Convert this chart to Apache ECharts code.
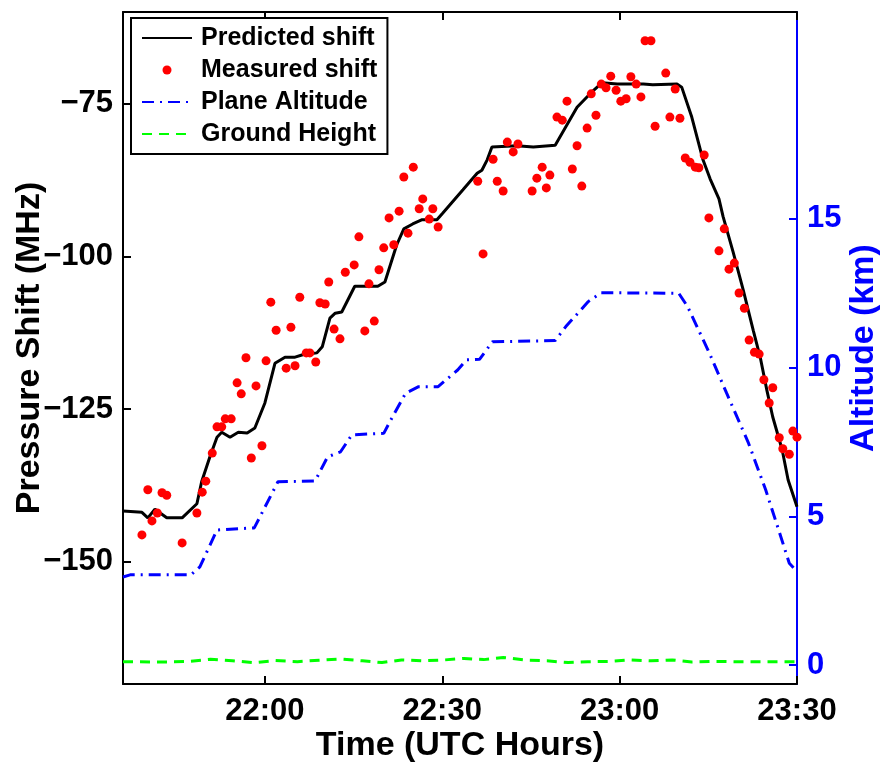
<!DOCTYPE html>
<html>
<head>
<meta charset="utf-8">
<script src="https://cdn.jsdelivr.net/npm/echarts@6/dist/echarts.min.js"></script>
<style>
  html, body { margin: 0; padding: 0; background: #fff; }
  #echart { width: 884px; height: 763px; }
</style>
</head>
<body>
<div id="echart"></div>
<script>
// time in minutes after 21:00
var xTicks = [60, 90, 120, 150];
var shiftTicks = [-150, -125, -100, -75];
var altTicks = [0, 5, 10, 15];

var predTime = [36, 39.2, 40.2, 41.4, 43.4, 46.0, 48.5, 49.3, 50.7, 51.9, 52.7, 54.1, 55.5, 57.0, 58.3, 60.0,
    61.7, 63.4, 65.1, 66.4, 68.8, 69.7, 71.0, 71.9, 73.0, 75.2, 79.1, 80.3, 82.3, 83.5, 85.0, 86.6, 89.1, 90.1,
    93.5, 95.9, 96.7, 97.6, 98.4, 102.6, 105.4, 109.1, 112.8, 115.5, 117.0, 119.6, 124.0, 125.6, 129.7, 130.5,
    132.2, 134.1, 135.3, 136.8, 137.5, 139.2, 140.9, 142.6, 143.8, 144.9, 145.9, 147.5, 148.5, 150.0];
var predShift = [-141.7, -141.9, -142.8, -141.4, -142.8, -142.8, -140.5, -136.9, -132.8, -129.6, -128.8, -129.6,
    -128.8, -128.9, -128.1, -124.0, -117.5, -116.5, -116.5, -116.1, -115.8, -114.8, -110.1, -109.3, -109.1, -104.9,
    -104.9, -104.2, -98.1, -95.5, -94.7, -94.0, -94.0, -92.9, -89.1, -86.4, -85.9, -84.2, -82.1, -81.9, -82.1,
    -81.8, -75.6, -72.9, -71.6, -71.8, -71.8, -71.9, -71.8, -72.3, -77.2, -84.2, -87.3, -90.6, -93.5, -99.3,
    -105.5, -112.1, -116.6, -121.9, -126.3, -131.7, -136.6, -141.0];

var measTime = [39.2, 40.2, 40.9, 41.8, 42.6, 43.4, 46.0, 48.5, 49.4, 50.0, 51.1, 51.9, 52.7, 53.3, 54.3, 55.3,
    56.0, 56.8, 57.7, 58.5, 59.5, 60.2, 61.0, 61.9, 63.6, 64.4, 65.1, 67.0, 67.6, 68.6, 69.3, 70.2, 71.7, 72.7,
    76.9, 78.5, 65.9, 70.8, 73.6, 75.1, 75.9, 77.6, 79.3, 80.1, 81.0, 81.8, 82.7, 83.5, 84.2, 85.1, 86.1, 86.7,
    87.8, 88.4, 89.3, 96.0, 96.9, 98.6, 99.3, 100.3, 101.0, 102.0, 102.8, 105.2, 106.0, 106.9, 107.6, 108.2,
    109.4, 110.3, 111.1, 112.0, 112.8, 113.6, 114.5, 115.2, 116.0, 116.9, 117.7, 118.5, 119.4, 120.2, 121.1,
    121.9, 122.8, 123.6, 124.3, 125.3, 126.0, 127.8, 128.5, 129.4, 130.2, 131.1, 131.9, 132.8, 133.4, 134.3,
    135.1, 136.8, 137.7, 138.5, 139.4, 140.2, 141.1, 141.9, 142.8, 143.6, 144.4, 145.3, 145.9, 147.0, 147.6,
    148.7, 149.3, 150.0];
var measShift = [-145.6, -138.2, -143.3, -142.0, -138.7, -139.1, -146.9, -142.0, -138.6, -136.8, -132.2, -127.9,
    -127.9, -126.6, -126.6, -120.7, -122.5, -116.6, -133.0, -121.2, -131.0, -117.1, -107.5, -112.1, -118.3, -111.6,
    -117.9, -115.8, -115.8, -117.3, -107.6, -107.8, -111.9, -113.5, -112.2, -110.6, -106.7, -104.2, -102.6, -101.4,
    -96.8, -104.5, -102.2, -98.6, -93.7, -98.1, -92.6, -87.0, -96.2, -85.4, -92.2, -90.6, -93.9, -92.2, -95.2,
    -87.7, -99.6, -84.1, -87.7, -89.3, -81.3, -82.9, -81.6, -89.3, -87.2, -85.4, -88.8, -86.7, -77.2, -77.7,
    -74.6, -85.7, -81.9, -88.5, -79.0, -73.4, -76.9, -71.8, -72.4, -70.5, -72.8, -74.6, -74.2, -70.6, -71.8,
    -73.9, -64.7, -64.7, -78.7, -70.0, -77.2, -72.6, -77.4, -83.9, -84.6, -85.4, -85.5, -83.4, -93.7, -99.1,
    -95.5, -102.1, -101.1, -106.0, -108.5, -113.7, -115.7, -116.0, -120.2, -124.0, -121.5, -129.7, -131.5,
    -132.4, -128.6, -129.6];

var altTime = [36, 37.2, 47.5, 49.0, 51.9, 58.2, 62.2, 68.5, 70.6, 72.8, 74.7, 80.1, 81.6, 83.8, 86.0, 89.3,
    92.6, 94.1, 96.3, 98.5, 109.1, 110.9, 114.7, 116.9, 130.0, 131.5, 135.2, 138.1, 141.8, 144.7, 146.9, 148.7, 150];
var altKm = [2.96, 3.03, 3.03, 3.3, 4.54, 4.61, 6.16, 6.19, 7.0, 7.17, 7.74, 7.79, 8.35, 9.14, 9.36, 9.36,
    9.92, 10.26, 10.28, 10.87, 10.91, 11.38, 12.22, 12.52, 12.50, 12.05, 10.48, 9.14, 7.46, 5.89, 4.54, 3.42, 3.14];

var groundTime = [36, 43.5, 47.1, 50.8, 54.5, 58.2, 61.8, 65.5, 69.2, 72.8, 76.5, 79.8, 83.1, 86.8, 90.4, 93.7,
    97.0, 100.3, 104.4, 107.7, 111.3, 114.6, 118.3, 121.6, 125.3, 128.9, 132.2, 135.9, 139.6, 143.2, 146.9, 150];
var groundKm = [0.11, 0.10, 0.12, 0.19, 0.14, 0.08, 0.15, 0.11, 0.16, 0.20, 0.14, 0.08, 0.17, 0.14, 0.17, 0.22,
    0.18, 0.25, 0.16, 0.14, 0.08, 0.11, 0.12, 0.17, 0.14, 0.17, 0.10, 0.12, 0.11, 0.11, 0.11, 0.11];

function zip(a, b) {
    var out = [];
    for (var i = 0; i < Math.min(a.length, b.length); i++) {
        out.push([a[i], b[i]]);
    }
    return out;
}

function fmtTime(v) {
    var h = 21 + Math.floor(v / 60);
    var m = Math.round(v % 60);
    return h + ':' + (m < 10 ? '0' + m : m);
}

function fmtNeg(v) {
    return v < 0 ? '\u2212' + (-v) : '' + v;
}

var FONT = '"Liberation Sans", Arial, Helvetica, sans-serif';

var myChart = echarts.init(document.getElementById('echart'));

var option = {
    backgroundColor: '#fff',
    animation: false,
    textStyle: { fontFamily: FONT },
    grid: { left: 123, right: 87, top: 12, bottom: 79, outerBoundsMode: 'none', containLabel: false },
    legend: {
        orient: 'vertical',
        left: 131,
        top: 18,
        backgroundColor: '#fff',
        borderColor: '#000',
        borderWidth: 2,
        padding: [7, 10, 7, 10],
        itemWidth: 50,
        itemHeight: 9,
        itemGap: 6,
        textStyle: { fontFamily: FONT, fontSize: 25, fontWeight: 'bold', color: '#000', lineHeight: 26, padding: [0, 0, 0, 4] },
        data: [
            { name: 'Predicted shift', itemStyle: { opacity: 0 } },
            { name: 'Measured shift' },
            { name: 'Plane Altitude', itemStyle: { opacity: 0 } },
            { name: 'Ground Height', itemStyle: { opacity: 0 } }
        ]
    },
    xAxis: [{
        type: 'value',
        min: 36,
        max: 150,
        position: 'bottom',
        name: 'Time (UTC Hours)',
        nameLocation: 'middle',
        nameGap: 45,
        nameMoveOverlap: false,
        nameTextStyle: { fontFamily: FONT, fontSize: 34, fontWeight: 'bold', color: '#000' },
        axisLine: { show: true, onZero: false, lineStyle: { color: '#000', width: 2 } },
        axisTick: { show: true, inside: true, length: 8, customValues: xTicks, lineStyle: { color: '#000', width: 2 } },
        axisLabel: { customValues: xTicks, formatter: fmtTime, margin: 12, fontFamily: FONT, fontSize: 31, fontWeight: 'bold', color: '#000' },
        splitLine: { show: false }
    }, {
        // top frame edge with mirrored ticks
        type: 'value',
        min: 36,
        max: 150,
        position: 'top',
        axisLine: { show: true, onZero: false, lineStyle: { color: '#000', width: 2 } },
        axisTick: { show: true, inside: true, length: 8, customValues: xTicks, lineStyle: { color: '#000', width: 2 } },
        axisLabel: { show: false },
        splitLine: { show: false }
    }],
    yAxis: [{
        type: 'value',
        min: -170,
        max: -60,
        position: 'left',
        name: 'Pressure Shift (MHz)',
        nameLocation: 'middle',
        nameRotate: 90,
        nameGap: 76,
        nameMoveOverlap: false,
        nameTextStyle: { fontFamily: FONT, fontSize: 34, fontWeight: 'bold', color: '#000' },
        axisLine: { show: true, onZero: false, lineStyle: { color: '#000', width: 2 } },
        axisTick: { show: true, inside: true, length: 8, customValues: shiftTicks, lineStyle: { color: '#000', width: 2 } },
        axisLabel: { customValues: shiftTicks, formatter: fmtNeg, margin: 10, fontFamily: FONT, fontSize: 31, fontWeight: 'bold', color: '#000' },
        splitLine: { show: false }
    }, {
        type: 'value',
        min: -0.64,
        max: 21.96,
        position: 'right',
        name: 'Altitude (km)',
        nameLocation: 'middle',
        nameRotate: 90,
        nameGap: 50,
        nameMoveOverlap: false,
        nameTextStyle: { fontFamily: FONT, fontSize: 34, fontWeight: 'bold', color: '#0000ff' },
        axisLine: { show: true, onZero: false, lineStyle: { color: '#0000ff', width: 2 } },
        axisTick: { show: true, inside: true, length: 8, customValues: altTicks, lineStyle: { color: '#0000ff', width: 2 } },
        axisLabel: { customValues: altTicks, margin: 10, fontFamily: FONT, fontSize: 31, fontWeight: 'bold', color: '#0000ff' },
        splitLine: { show: false }
    }],
    series: [{
        name: 'Predicted shift',
        type: 'line',
        xAxisIndex: 0,
        yAxisIndex: 0,
        data: zip(predTime, predShift),
        symbol: 'none',
        showSymbol: false,
        lineStyle: { color: '#000', width: 3 },
        itemStyle: { color: '#000' },
        z: 3
    }, {
        name: 'Measured shift',
        type: 'scatter',
        xAxisIndex: 0,
        yAxisIndex: 0,
        data: zip(measTime, measShift),
        symbol: 'circle',
        symbolSize: 9,
        itemStyle: { color: '#ff0000', opacity: 1 },
        z: 4
    }, {
        name: 'Plane Altitude',
        type: 'line',
        xAxisIndex: 0,
        yAxisIndex: 1,
        data: zip(altTime, altKm),
        symbol: 'none',
        showSymbol: false,
        lineStyle: { color: '#0000ff', width: 3, type: [12, 6, 2, 6] },
        itemStyle: { color: '#0000ff' },
        z: 2
    }, {
        name: 'Ground Height',
        type: 'line',
        xAxisIndex: 0,
        yAxisIndex: 1,
        data: zip(groundTime, groundKm),
        symbol: 'none',
        showSymbol: false,
        lineStyle: { color: '#00ff00', width: 3, type: [10, 7] },
        itemStyle: { color: '#00ff00' },
        z: 2
    }]
};

myChart.setOption(option);
</script>
</body>
</html>
